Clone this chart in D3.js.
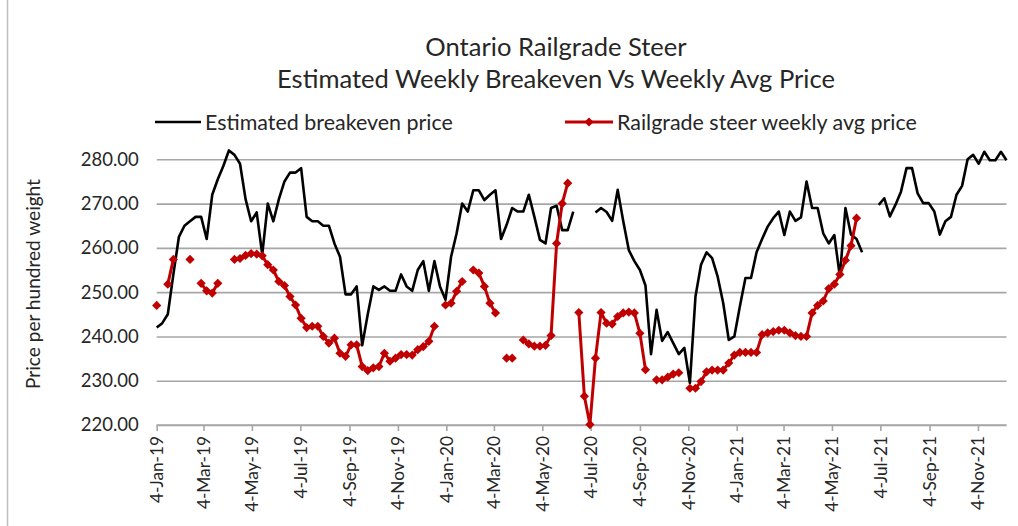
<!DOCTYPE html>
<html>
<head>
<meta charset="utf-8">
<script src="https://cdn.jsdelivr.net/npm/d3@7"></script>
<style>
  html, body { margin: 0; padding: 0; background: #fff; }
  svg { display: block; }
</style>
</head>
<body>
<svg id="chart" width="1018" height="526"></svg>
<script>
// ---------------- DATA ----------------
const firstWeek = "2019-01-04";   // weekly (Friday) observations
const lastAxisDate = "2021-12-10";

const titleLines = ["Ontario Railgrade Steer", "Estimated Weekly Breakeven Vs Weekly Avg Price"];
const seriesNames = ["Estimated breakeven price", "Railgrade steer weekly avg price"];
const yAxisTitle = "Price per hundred weight";
const yTicks = [220, 230, 240, 250, 260, 270, 280];

// Estimated breakeven price, one value per week from 4-Jan-19 (null = no data)
const breakeven = [
  242, 243, 245, 254, 262.5, 265, 266, 267, 267, 262,
  272, 275.5, 278.5, 282, 281, 279, 271, 266, 268, 258.5,
  270, 266, 271, 275, 277, 277, 278, 267, 266, 266,
  265, 265, 261, 258, 249.5, 249.5, 251.3, 238, 245, 251.3,
  250.5, 251.3, 250.3, 250.3, 254, 251.3, 250.3, 255, 257, 250.3,
  257, 251.3, 248.3, 258, 263.3, 270, 268.2, 273, 273, 270.8,
  272, 273, 262, 265.2, 269, 268.2, 268.2, 272, 267, 261.8,
  261, 269, 269.5, 264, 264, 268.2, null, null, null, 268,
  269, 268.1, 266.1, 273.1, 266, 259.5, 257, 255, 251.5, 236,
  246, 239, 241, 238.5, 236, 237.4, 229.5, 249, 256.2, 259,
  257.7, 253.5, 247.5, 239.2, 240, 246.8, 253.2, 253.2, 259, 262,
  264.8, 266.7, 268.2, 262.9, 268.2, 266.1, 266.9, 275, 269, 269,
  263.3, 261, 262.9, 253.5, 269, 263, 262, 259, null, null,
  269.7, 271.2, 267.1, 269.7, 272.7, 278, 278, 272.3, 270.1, 270.1,
  268.2, 263, 266, 267, 272, 274, 280, 281, 279, 281.7,
  279.8, 279.8, 281.7, 279.8
];

// Railgrade steer weekly average price, one value per week from 4-Jan-19
const avgPrice = [
  247, null, 251.8, 257.4, null, null, 257.4, null, 252, 250.3,
  249.8, 252, null, null, 257.4, 257.6, 258.3, 258.7, 258.6, 258.2,
  256.2, 255, 252.4, 251.5, 249, 247.1, 244.1, 242, 242.3, 242.3,
  240, 238.5, 239.6, 236.2, 235.5, 238.1, 238.1, 233.2, 232.3, 232.9,
  233.2, 236.2, 234.4, 235.1, 235.9, 235.9, 235.8, 237, 237.7, 238.9,
  242.3, null, 247.1, 247.5, 250.2, 252.4, null, 255, 254.3, 251.3,
  247.5, 245.3, null, 235.1, 235.1, null, 239.2, 238.3, 237.8, 237.8,
  238, 240.2, 261, 270, 274.6, null, 245.4, 226.5, 220.1, 235.1,
  245.4, 243, 242.8, 244.5, 245.3, 245.5, 245.3, 240.7, 232.5, null,
  230.2, 230.2, 230.8, 231.5, 231.8, null, 228.3, 228.3, 229.8, 232,
  232.4, 232.4, 232.4, 234, 235.8, 236.4, 236.4, 236.4, 236.4, 240.4,
  240.8, 241.1, 241.4, 241.4, 240.8, 240.2, 240, 240, 245.3, 247,
  248, 250.8, 251.8, 254, 257.2, 260.5, 266.7
];

// ---------------- CHART ----------------
const svg = d3.select("#chart");
const FONT = "Lato, 'Open Sans', 'DejaVu Sans', sans-serif";
const TXT = "#262626";
const GRID = "#a6a6a6";
const RED = "#c00000";

const parse = d3.utcParse("%Y-%m-%d");
const t0 = parse(firstWeek);
const t1 = parse(lastAxisDate);
const weekDate = i => d3.utcDay.offset(t0, 7 * i);

const be = breakeven.map((v, i) => ({ date: weekDate(i), v }));
const ap = avgPrice.map((v, i) => ({ date: weekDate(i), v }));

const plot = { left: 156.7, right: 1006.5 };
const x = d3.scaleUtc().domain([t0, t1]).range([plot.left, plot.right]);
const y = d3.scaleLinear().domain([220, 280]).range([425, 159.3]);

// helper: font size so that a sample string has a target width
function fitSize(str, target) {
  const t = svg.append("text").style("font-family", FONT).style("font-size", "100px").text(str);
  const w = t.node().getComputedTextLength();
  t.remove();
  return 100 * target / w;
}

// outer chart frame (left edge visible)
svg.append("line").attr("x1", 7.5).attr("x2", 7.5).attr("y1", 0).attr("y2", 526)
  .attr("stroke", "#bfbfbf").attr("stroke-width", 1.5);

// y gridlines + labels
const yFs = fitSize("280.00", 58);
const yAxis = d3.axisLeft(y).tickValues(yTicks).tickFormat(d3.format(".2f"))
  .tickSize(-(plot.right - plot.left)).tickPadding(18);
const gy = svg.append("g").attr("transform", `translate(${plot.left},0)`).call(yAxis);
gy.select(".domain").remove();
gy.selectAll(".tick line").attr("stroke", GRID).attr("stroke-width", 1.6);
gy.selectAll(".tick text").attr("fill", TXT).style("font-family", FONT).style("font-size", yFs + "px");

// x axis
const xTicks = d3.range(0, 18).map(i => new Date(Date.UTC(2019, 2 * i, 4)));
const xFs = fitSize("4-Jan-19", 67);
const xAxis = d3.axisBottom(x).tickValues(xTicks).tickFormat(d3.utcFormat("%-d-%b-%y"))
  .tickSize(6).tickSizeOuter(0);
const gx = svg.append("g").attr("transform", `translate(0,${y(220)})`).call(xAxis);
gx.select(".domain").attr("stroke", GRID).attr("stroke-width", 1.6)
  .attr("d", `M${plot.left},0H${plot.right}`);
gx.selectAll(".tick line").attr("stroke", GRID).attr("stroke-width", 1.6);
gx.selectAll(".tick text")
  .attr("fill", TXT).style("font-family", FONT).style("font-size", xFs + "px")
  .attr("transform", "rotate(-90)")
  .attr("text-anchor", "end")
  .attr("x", -11).attr("y", 0).attr("dy", "0.35em");

// y axis title
const atFs = fitSize(yAxisTitle, 210);
svg.append("text").attr("transform", "translate(33,284) rotate(-90)")
  .attr("text-anchor", "middle").attr("dy", "0.35em")
  .attr("fill", TXT).style("font-family", FONT).style("font-size", atFs + "px")
  .text(yAxisTitle);

// title
const tFs = fitSize(titleLines[1], 558);
svg.selectAll("text.title").data(titleLines).join("text").attr("class", "title")
  .attr("x", 556).attr("y", (d, i) => 47 + i * 32).attr("dy", "0.35em")
  .attr("text-anchor", "middle").attr("fill", TXT)
  .style("font-family", FONT).style("font-size", tFs + "px")
  .text(d => d);

// series
const line = d3.line().defined(d => d.v != null).x(d => x(d.date)).y(d => y(d.v));

svg.append("path").datum(be).attr("fill", "none").attr("stroke", "#000")
  .attr("stroke-width", 2.6).attr("stroke-linejoin", "round").attr("d", line);

svg.append("path").datum(ap).attr("fill", "none").attr("stroke", RED)
  .attr("stroke-width", 3).attr("stroke-linejoin", "round").attr("d", line);

const diamond = r => `M0,${-r}L${r},0L0,${r}L${-r},0Z`;
svg.append("g").selectAll("path").data(ap.filter(d => d.v != null)).join("path")
  .attr("transform", d => `translate(${x(d.date)},${y(d.v)})`)
  .attr("d", diamond(4.6)).attr("fill", RED);

// legend
const lFs = fitSize(seriesNames[0], 248);
const lg = svg.append("g");
lg.append("line").attr("x1", 155).attr("x2", 201).attr("y1", 122).attr("y2", 122)
  .attr("stroke", "#000").attr("stroke-width", 2.6);
lg.append("text").attr("x", 205).attr("y", 122).attr("dy", "0.35em")
  .attr("fill", TXT).style("font-family", FONT).style("font-size", lFs + "px").text(seriesNames[0]);
lg.append("line").attr("x1", 565).attr("x2", 613).attr("y1", 122).attr("y2", 122)
  .attr("stroke", RED).attr("stroke-width", 3);
lg.append("path").attr("transform", "translate(589,122)").attr("d", diamond(4.6)).attr("fill", RED);
lg.append("text").attr("x", 617).attr("y", 122).attr("dy", "0.35em")
  .attr("fill", TXT).style("font-family", FONT).style("font-size", lFs + "px").text(seriesNames[1]);
</script>
</body>
</html>
